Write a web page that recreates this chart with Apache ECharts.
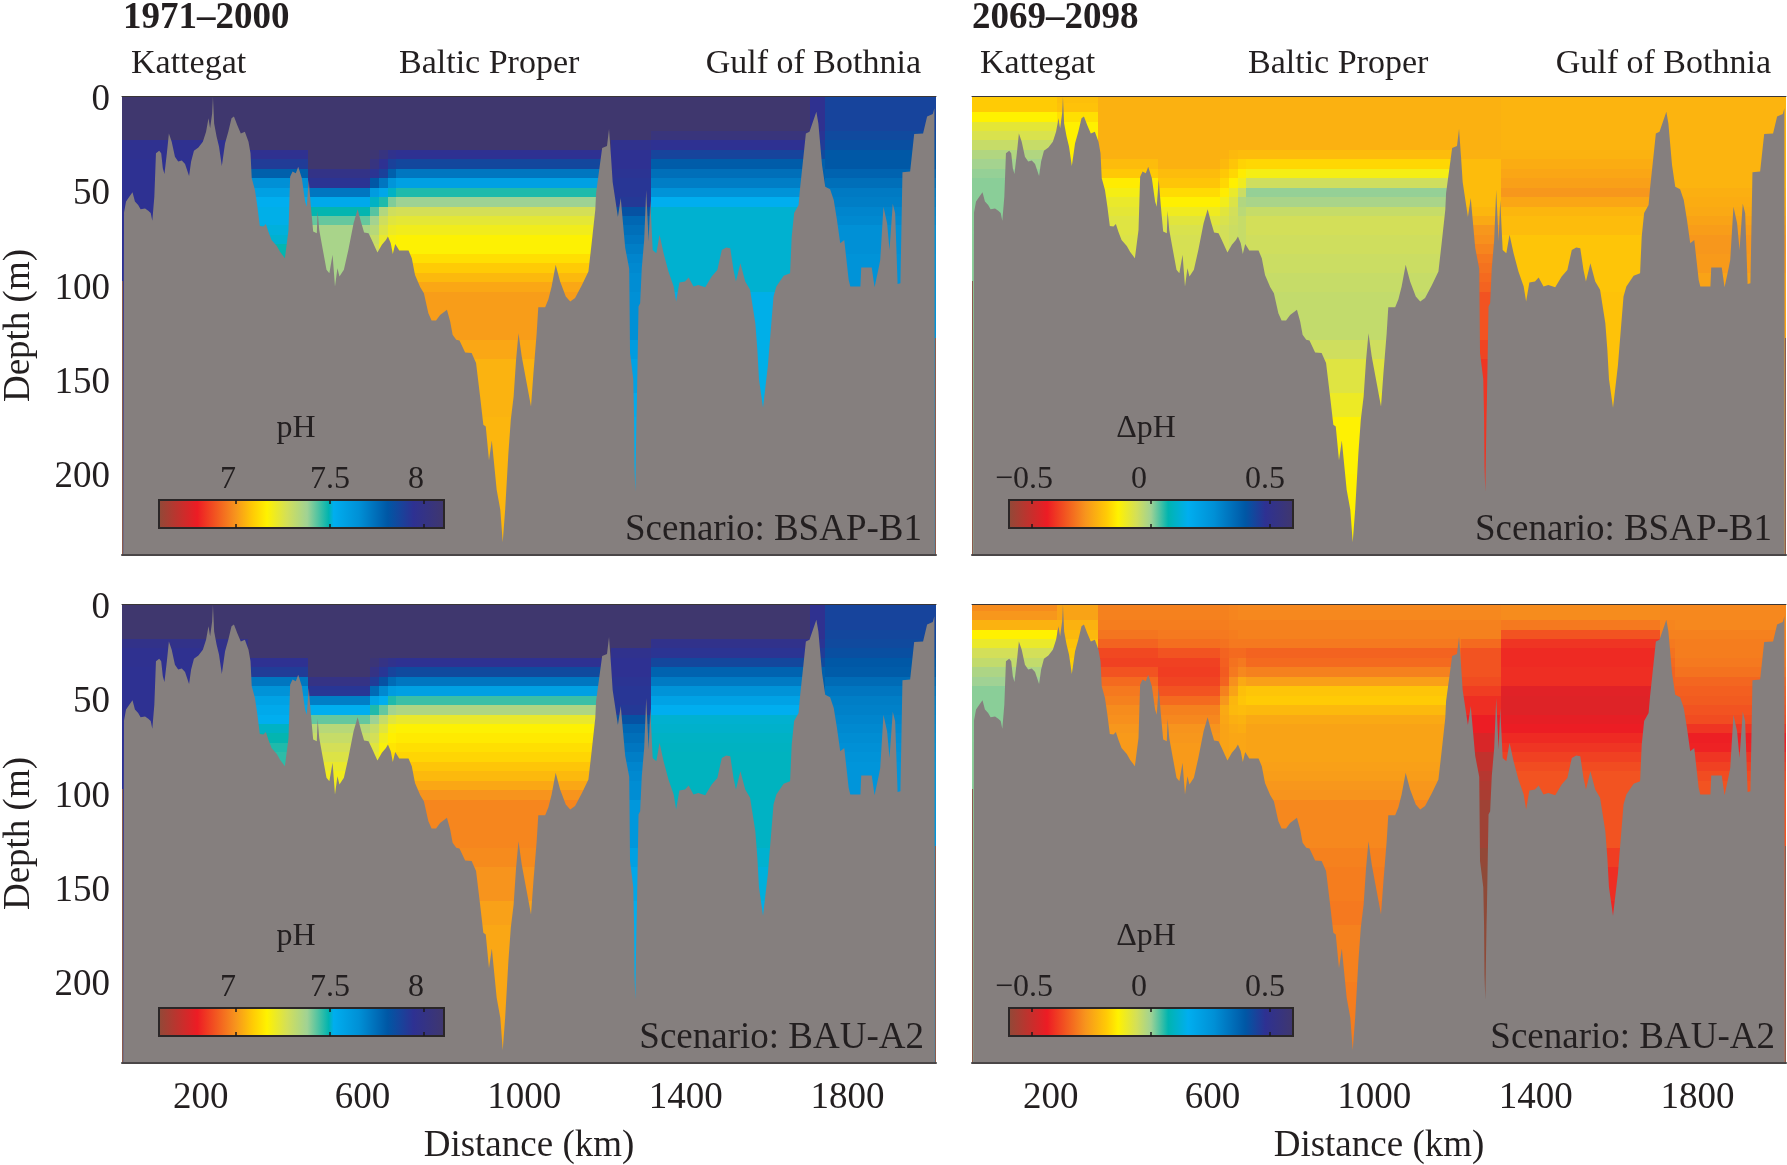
<!DOCTYPE html>
<html><head><meta charset="utf-8">
<style>html,body{margin:0;padding:0;background:#fff}#c{width:1787px;height:1165px}</style>
<script src="https://cdn.jsdelivr.net/npm/echarts@6/dist/echarts.min.js"></script>
</head><body><div id="c"></div>
<script>
// ---------- data ----------
const titles = ['1971–2000', '2069–2098'];
const basins = ['Kattegat', 'Baltic Proper', 'Gulf of Bothnia'];
const scenarios = ['Scenario: BSAP-B1', 'Scenario: BAU-A2'];
const xTicks = [200, 600, 1000, 1400, 1800];
const yTicks = [0, 50, 100, 150, 200];
const phTicks = [7, 7.5, 8];
const dTicks = [-0.5, 0, 0.5];
const phRange = [6.59, 8.106];
const dRange = [-0.597, 0.597];
const xRange = [5, 2019];
const yRange = [0, 243];

// colour ramp of the two colour bars
const rampColors = ['#8f4a38','#ed1c24','#f7941d','#ffcb05','#fff200','#d3df59','#a0d294','#00b4b0','#00aeef','#0090d6','#0057a5','#2e3192','#40376d'];
const rampPosPh  = [0,0.137,0.27,0.33,0.38,0.45,0.52,0.595,0.612,0.70,0.80,0.89,1];
const rampPosD   = [0,0.137,0.27,0.345,0.385,0.45,0.50,0.56,0.63,0.72,0.83,0.90,1];

// model columns along the section (km) and depth bins (m)
const columnEdges = [8,215,316,466,619,640,662,684,1215,1315,1708,1745,2016];
const depthEdges = [0,3.5,8.5,13.5,18.5,23.5,28.5,33.5,38.5,43.5,48.5,53.5,58.5,63.5,68.5,73.5,78.5,83.5,88.5,93.5,98.5,103.5,129,139,157,170,200,243];
const leftStripDepth = 98, rightStripDepth = 128;

// sea-floor section: distance (km), depth (m)
const bedKm = [8,10,15,23,31,37,45,51,62,70,76,80,85,89,97,102,106,110,116,121,128,136,144,153,161,171,176,183,194,205,213,219,223,228,230,233,239,245,252,260,268,276,282,290,299,309,318,323,326,334,340,346,355,361,367,375,388,396,408,412,417,421,427,435,441,450,458,462,467,472,478,487,489,493,502,511,518,526,532,538,543,554,565,578,588,596,604,615,623,637,648,658,663,670,675,681,691,714,722,730,743,752,763,771,782,792,809,817,823,832,840,854,870,881,891,899,905,913,920,932,941,947,953,961,967,974,980,986,994,1007,1017,1023,1031,1035,1052,1060,1068,1078,1089,1103,1114,1126,1143,1159,1167,1176,1178,1193,1205,1210,1215,1219,1232,1239,1250,1260,1262,1270,1272,1273,1275,1276,1278,1279,1283,1287,1291,1297,1302,1308,1312,1318,1327,1335,1345,1357,1370,1376,1384,1398,1407,1419,1431,1448,1464,1478,1489,1500,1510,1518,1524,1535,1547,1559,1572,1577,1581,1591,1603,1617,1624,1642,1658,1662,1668,1679,1683,1691,1697,1706,1723,1728,1737,1745,1757,1766,1774,1782,1792,1803,1807,1832,1834,1860,1867,1877,1881,1889,1898,1904,1912,1918,1924,1931,1936,1955,1965,1987,1997,2011,2015,2016];
const bedDepth = [243,61.7,55.9,53.3,51,55.9,57.7,60,59.6,60.7,62,66,53.3,30.3,29,30.3,38.3,41.3,30.3,19.8,24.2,32.1,34.7,34.2,36,42.3,34.7,29,27.2,24.2,18.9,11.8,17.1,9.2,0.4,14.5,21.5,26.8,37,25,18.9,11.8,10.9,15.3,19.8,18.9,24.2,30.3,43.6,49.7,58.6,68.8,69.1,67.7,71.8,76.2,79.4,82.4,85.9,85,70.9,42.7,40,40.9,37.4,43.6,55.9,58.6,44.4,57.7,71.8,72.7,60.7,70.9,81.5,92,93.8,84.1,100.9,91.2,95.6,92,81.5,67.4,60,66.5,72.3,72.7,76.2,82.9,78.8,76.2,74.4,78,83.6,78.3,81.8,81.8,85.9,94.7,101.2,104.4,115,118.9,118.9,115.9,113.2,119.4,126.4,129.1,129.4,135.8,136.1,141.4,159.1,174.1,175,192.9,182.4,208.5,219,236.3,219,189.1,171.4,159.1,139.7,125.6,137.9,152.9,164.4,146.7,125.6,111.8,111.8,107.6,100.9,89.4,98.2,106.2,108.8,107,100,92.9,77.9,60.3,51.3,27.5,26.5,17.5,32.3,45.5,64,54,80.4,91.5,136,150,170,196,209.4,196,170,161,111.4,109.7,91.2,76.2,49.7,77,55,81.5,83.2,73.5,83.2,92.9,100.9,108.8,98.8,98.2,96.1,100.9,100,101.2,95.6,92.1,81.5,80.2,80.6,92.1,98.2,88.5,98.2,102.6,120.3,134.4,150,165,142.9,106.2,100.9,95.2,93.8,74.4,62,57.7,48,32.1,19.8,18.9,8.3,14.5,36.5,48,49.4,55,65.6,78,76.2,97.4,100.9,100.9,90.8,90.8,101.2,91.2,86.8,58.6,67.4,81.5,57.1,62.1,99.5,99.1,40.4,40,20.1,19.8,10.9,9.5,6.5,243];

// pH, scenario BSAP-B1, 1971-2000: one profile per column, per depth bin
const phB1_K1 = [8.1,8.1,8.1,8.1,8.1,7.95,7.95,7.94,7.94];
const phB1_K2 = [8.1,8.1,8.1,8.1,8.1,7.95,7.95,7.94,7.94];
const phB1_A  = [8.1,8.1,8.1,8.1,8.1,8.1,7.95,7.9,7.78,7.65,7.58,7.52,7.515,7.515,7.51,7.505,7.49,7.49];
const phB1_B  = [8.1,8.1,8.1,8.1,8.1,8.1,8.1,8.1,7.99,7.93,7.72,7.54,7.49,7.42,7.36];
const phB1_T1 = [8.1,8.1,8.1,8.1,8.1,8.1,8.08,8.02,7.93,7.8,7.6,7.5,7.43,7.37,7.33,7.3,7.28,7.26];
const phB1_T2 = [8.1,8.1,8.1,8.1,8.1,8.1,8.02,7.94,7.88,7.72,7.55,7.47,7.34,7.28,7.25,7.22,7.2,7.18];
const phB1_T3 = [8.1,8.1,8.1,8.1,8.1,8.1,7.96,7.88,7.78,7.63,7.5,7.4,7.28,7.24,7.21,7.18,7.17,7.12];
const phB1_C  = [8.1,8.1,8.1,8.1,8.1,8.1,7.94,7.86,7.72,7.58,7.47,7.38,7.27,7.23,7.2,7.17,7.17,7.13,7.09,7.06,7.03,7.015,7.03,7.05,7.05,7.055,7.055];
const phB1_E  = [8.1,8.1,8.1,8.1,8.1,7.96,7.94,7.94,7.93,7.92,7.92,7.91,7.82,7.76,7.74,7.72,7.7,7.68,7.67,7.66,7.66,7.65,7.6,7.57,7.53,7.52,7.52];
const phB1_D  = [8.1,8.1,8.1,8.1,8.04,7.94,7.87,7.79,7.74,7.7,7.64,7.52,7.505,7.505,7.505,7.505,7.505,7.505,7.505,7.505,7.505,7.515,7.515,7.515,7.515,7.515,7.515];
const phB1_G  = [7.95,7.95,7.95,7.95,7.93,7.9,7.85,7.78];
const phB1_H  = [7.87,7.87,7.87,7.87,7.85,7.83,7.8,7.8,7.77,7.74,7.71,7.7,7.68,7.67,7.65,7.65,7.65,7.64,7.64,7.64,7.64];

// pH, scenario BAU-A2, 1971-2000
const phA2_K1 = [8.1,8.1,8.1,8.1,7.98,7.95,7.95,7.94,7.94];
const phA2_K2 = [8.1,8.1,8.1,8.1,7.98,7.95,7.95,7.94,7.94];
const phA2_A  = [8.1,8.1,8.1,8.1,8.1,8.1,7.94,7.9,7.72,7.64,7.57,7.54,7.52,7.5,7.49,7.47,7.46,7.46,7.46];
const phA2_B  = [8.1,8.1,8.1,8.1,8.1,8.1,8.1,8.1,8.0,7.92,7.7,7.52,7.42,7.33,7.3,7.27,7.25,7.22,7.2,7.2];
const phA2_T1 = [8.1,8.1,8.1,8.1,8.1,8.1,8.06,8.0,7.9,7.75,7.56,7.47,7.38,7.3,7.27,7.24,7.22,7.2];
const phA2_T2 = [8.1,8.1,8.1,8.1,8.1,8.1,8.0,7.92,7.82,7.67,7.52,7.42,7.3,7.24,7.2,7.18,7.17,7.15];
const phA2_T3 = [8.1,8.1,8.1,8.1,8.1,8.1,7.96,7.87,7.75,7.6,7.47,7.37,7.24,7.18,7.16,7.14,7.12,7.09];
const phA2_C  = [8.1,8.1,8.1,8.1,8.1,8.1,7.94,7.85,7.72,7.58,7.45,7.35,7.22,7.17,7.15,7.13,7.11,7.08,7.06,7.03,7.0,6.975,6.985,7.0,7.02,7.03,7.03];
const phA2_E  = [8.1,8.1,8.1,8.1,8.1,7.96,7.94,7.94,7.93,7.92,7.92,7.91,7.82,7.76,7.74,7.72,7.7,7.68,7.67,7.66,7.66,7.62,7.58,7.55,7.52,7.52,7.52];
const phA2_D  = [8.1,8.1,8.1,8.1,7.97,7.93,7.86,7.77,7.71,7.64,7.57,7.52,7.505,7.503,7.5,7.499,7.498,7.498,7.498,7.498,7.498,7.5,7.505,7.51,7.515,7.515,7.515];
const phA2_G  = [7.95,7.95,7.95,7.95,7.93,7.9,7.85,7.78];
const phA2_H  = [7.87,7.87,7.87,7.86,7.85,7.83,7.8,7.79,7.75,7.72,7.7,7.69,7.68,7.67,7.66,7.65,7.64,7.63,7.63,7.63,7.63];

// change in pH, scenario BSAP-B1, 2069-2098
const dB1_K1 = [-.185,-.185,-.138,-.09,-.07,-.045,-.02,-.005,.005,.01];
const dB1_K2 = [-.205,-.2,-.16,-.14,-.14,-.14,-.14,-.14];
const dB1_A  = [-.228,-.228,-.228,-.228,-.228,-.228,-.228,-.21,-.19,-.145,-.12,-.1,-.09,-.08,-.08,-.075];
const dB1_B  = [-.228,-.228,-.228,-.228,-.228,-.228,-.228,-.228,-.21,-.195,-.165,-.14,-.11,-.085,-.07,-.065];
const dB1_T1 = [-.228,-.228,-.228,-.228,-.228,-.228,-.225,-.215,-.19,-.17,-.145,-.115,-.085,-.07,-.06];
const dB1_T2 = [-.228,-.228,-.228,-.228,-.228,-.228,-.215,-.195,-.17,-.14,-.1,-.075,-.06,-.055,-.05];
const dB1_T3 = [-.228,-.228,-.228,-.228,-.228,-.228,-.21,-.175,-.145,-.11,-.05,-.02,-.03,-.045];
const dB1_C  = [-.228,-.228,-.228,-.228,-.228,-.228,-.21,-.17,-.12,-.055,.005,-.01,-.045,-.06,-.06,-.055,-.055,-.05,-.05,-.045,-.045,-.04,-.055,-.08,-.105,-.135,-.14];
const dB1_E  = [-.228,-.228,-.228,-.228,-.228,-.228,-.228,-.21,-.21,-.21,-.21,-.21,-.22,-.24,-.27,-.28,-.295,-.31,-.32,-.33,-.34,-.36,-.38,-.4,-.4,-.4,-.4];
const dB1_D  = [-.222,-.222,-.222,-.222,-.222,-.222,-.225,-.235,-.245,-.255,-.27,-.245,-.22,-.21,-.21,-.195,-.195,-.195,-.195,-.195,-.195,-.2];
const dB1_G  = [-.222,-.222,-.222,-.222,-.222,-.222,-.222,-.222];
const dB1_H  = [-.222,-.222,-.222,-.222,-.222,-.222,-.222,-.222,-.222,-.222,-.23,-.235,-.24,-.25,-.26,-.27,-.27,-.265,-.265,-.25,-.25];

// change in pH, scenario BAU-A2, 2069-2098
const dA2_K1 = [-.285,-.27,-.225,-.138,-.1,-.06,-.04,-.015,0,.01];
const dA2_K2 = [-.25,-.25,-.225,-.215,-.2,-.19,-.18,-.17];
const dA2_A  = [-.3,-.3,-.305,-.315,-.34,-.375,-.385,-.36,-.33,-.31,-.3,-.285,-.28,-.27,-.265];
const dA2_B  = [-.3,-.3,-.305,-.31,-.325,-.36,-.385,-.39,-.38,-.36,-.33,-.3,-.29,-.275,-.27,-.265];
const dA2_T1 = [-.3,-.3,-.305,-.31,-.32,-.34,-.345,-.35,-.34,-.3,-.27,-.24,-.245,-.25];
const dA2_T2 = [-.295,-.295,-.3,-.305,-.31,-.33,-.32,-.31,-.28,-.25,-.22,-.215,-.23,-.24,-.245];
const dA2_T3 = [-.29,-.29,-.3,-.3,-.31,-.33,-.31,-.29,-.24,-.205,-.195,-.21,-.225,-.235,-.245];
const dA2_C  = [-.29,-.29,-.3,-.3,-.31,-.34,-.33,-.3,-.255,-.195,-.185,-.215,-.24,-.25,-.25,-.25,-.25,-.255,-.26,-.27,-.275,-.29,-.3,-.305,-.31,-.3,-.305];
const dA2_E  = [-.29,-.29,-.3,-.3,-.33,-.36,-.36,-.36,-.37,-.39,-.41,-.41,-.436,-.436,-.47,-.47,-.51,-.51,-.53,-.54,-.55,-.57,-.59,-.6,-.6,-.6,-.6];
const dA2_D  = [-.285,-.285,-.31,-.36,-.4,-.415,-.415,-.41,-.41,-.455,-.46,-.46,-.445,-.436,-.415,-.4,-.385,-.37,-.36,-.36,-.36,-.36,-.39,-.41,-.42,-.42,-.42];
const dA2_G  = [-.29,-.29,-.295,-.3,-.31,-.32,-.33,-.34];
const dA2_H  = [-.29,-.29,-.29,-.3,-.305,-.305,-.31,-.32,-.335,-.345,-.35,-.36,-.37,-.4,-.43,-.425,-.4,-.385,-.37,-.36,-.36];

const fieldPhB1 = [phB1_K1,phB1_K2,phB1_A,phB1_B,phB1_T1,phB1_T2,phB1_T3,phB1_C,phB1_E,phB1_D,phB1_G,phB1_H];
const fieldPhA2 = [phA2_K1,phA2_K2,phA2_A,phA2_B,phA2_T1,phA2_T2,phA2_T3,phA2_C,phA2_E,phA2_D,phA2_G,phA2_H];
const fieldDB1  = [dB1_K1,dB1_K2,dB1_A,dB1_B,dB1_T1,dB1_T2,dB1_T3,dB1_C,dB1_E,dB1_D,dB1_G,dB1_H];
const fieldDA2  = [dA2_K1,dA2_K2,dA2_A,dA2_B,dA2_T1,dA2_T2,dA2_T3,dA2_C,dA2_E,dA2_D,dA2_G,dA2_H];

// ---------- drawing ----------
const FONT = '"Liberation Serif","Times New Roman",serif';
const INK = '#231f20', GRAY = '#857f7e', BROWN = '#8c5a4a';
const PW = 814, PH = 459;
const panels = [
  {left:122, top:96,  field:fieldPhB1, range:phRange, pos:rampPosPh, ticks:phTicks, yAxis:true,  xAxis:false},
  {left:972, top:96,  field:fieldDB1,  range:dRange,  pos:rampPosD,  ticks:dTicks,  yAxis:false, xAxis:false},
  {left:122, top:604, field:fieldPhA2, range:phRange, pos:rampPosPh, ticks:phTicks, yAxis:true,  xAxis:true},
  {left:972, top:604, field:fieldDA2,  range:dRange,  pos:rampPosD,  ticks:dTicks,  yAxis:false, xAxis:true}
];
function hex(c){return [1,3,5].map(i=>parseInt(c.substr(i,2),16));}
function colorOf(v, range, pos){
  const t = Math.max(0, Math.min(1, (v-range[0])/(range[1]-range[0])));
  for (let i=1;i<pos.length;i++){
    if (t<=pos[i]){
      const f=(t-pos[i-1])/(pos[i]-pos[i-1]), a=hex(rampColors[i-1]), b=hex(rampColors[i]);
      return 'rgb('+a.map((x,k)=>Math.round(x+(b[k]-x)*f)).join(',')+')';
    }
  }
  return rampColors[rampColors.length-1];
}
function profileAt(p,i){return i<p.length?p[i]:p[p.length-1];}
function cellsOf(field){
  const out=[];
  field.forEach((p,c)=>{
    for(let i=0;i<depthEdges.length-1;i++)
      out.push([columnEdges[c],columnEdges[c+1],depthEdges[i],depthEdges[i+1],profileAt(p,i)]);
  });
  for(let i=0;i<depthEdges.length-1 && depthEdges[i]<leftStripDepth;i++)
    out.push([xRange[0],columnEdges[0],depthEdges[i],Math.min(depthEdges[i+1],leftStripDepth),profileAt(field[0],i)]);
  const last=columnEdges[columnEdges.length-1];
  for(let i=0;i<depthEdges.length-1 && depthEdges[i]<rightStripDepth;i++)
    out.push([last,xRange[1],depthEdges[i],Math.min(depthEdges[i+1],rightStripDepth),profileAt(field[field.length-1],i)]);
  return out;
}
const grids=[],xAxes=[],yAxes=[],series=[],texts=[];
function txt(t,x,y,size,extra){texts.push({type:'text',z:100,x,y,style:Object.assign({text:t,font:size+'px '+FONT,fill:INK,textAlign:'left',textVerticalAlign:'middle'},extra||{})});}

panels.forEach((p,n)=>{
  const g=grids.length;
  grids.push({left:p.left,top:p.top,width:PW,height:PH,show:true,backgroundColor:BROWN,borderWidth:0,outerBoundsMode:'none',containLabel:false});
  xAxes.push({gridIndex:g,type:'value',min:xRange[0],max:xRange[1],position:'bottom',z:10,
    name:p.xAxis?'Distance (km)':'',nameLocation:'middle',nameGap:65,
    nameTextStyle:{fontFamily:FONT,fontSize:37,color:INK},
    axisLine:{show:true,onZero:false,lineStyle:{color:'#4a4647',width:2}},axisTick:{show:false},splitLine:{show:false},
    axisLabel:{show:p.xAxis,customValues:xTicks,formatter:v=>String(v),fontFamily:FONT,fontSize:37,color:INK,margin:17}});
  const xi2=xAxes.length;
  xAxes.push({gridIndex:g,type:'value',min:xRange[0],max:xRange[1],position:'top',z:10,
    axisLine:{show:true,onZero:false,lineStyle:{color:'#3a3637',width:1}},axisTick:{show:false},axisLabel:{show:false},splitLine:{show:false}});
  yAxes.push({gridIndex:g,type:'value',inverse:true,min:yRange[0],max:yRange[1],
    name:p.yAxis?'Depth (m)':'',nameLocation:'middle',nameGap:84,nameRotate:90,
    nameTextStyle:{fontFamily:FONT,fontSize:37,color:INK},
    axisLine:{show:false},axisTick:{show:false},splitLine:{show:false},
    axisLabel:{show:p.yAxis,customValues:yTicks,fontFamily:FONT,fontSize:37,color:INK,margin:12,verticalAlign:'top',lineHeight:8}});
  const range=p.range,pos=p.pos;
  series.push({type:'custom',xAxisIndex:xi2-1,yAxisIndex:yAxes.length-1,z:2,silent:true,animation:false,progressive:0,
    encode:{x:[0,1],y:[2,3]},data:cellsOf(p.field),
    renderItem:(params,api)=>{
      const a=api.coord([api.value(0),api.value(2)]),b=api.coord([api.value(1),api.value(3)]);
      const x0=Math.round(a[0]),x1=Math.round(b[0]),y0=Math.round(a[1]),y1=Math.round(b[1]);
      return {type:'rect',shape:{x:x0,y:y0,width:x1-x0,height:y1-y0},style:{fill:colorOf(api.value(4),range,pos)}};
    }});
  series.push({type:'line',xAxisIndex:xi2-1,yAxisIndex:yAxes.length-1,z:3,silent:true,animation:false,symbol:'none',
    lineStyle:{width:0},areaStyle:{color:GRAY,opacity:1,origin:'end'},
    data:bedKm.map((k,i)=>[k,bedDepth[i]])});
});
// colour bars, each with its own scale
panels.forEach((p,n)=>{
  const barW=p.left===972?284:285, barTop=p.top+404;
  const g=grids.length;
  grids.push({left:p.left===972?1009:159,top:barTop,width:barW,height:28,z:20,show:false,outerBoundsMode:'none',containLabel:false});
  const xi=xAxes.length;
  const mk=(position)=>({gridIndex:g,type:'value',min:p.range[0],max:p.range[1],position,z:30,
    axisLine:{show:false,onZero:false},axisLabel:{show:false},splitLine:{show:false},
    axisTick:{show:true,inside:true,length:4,customValues:p.ticks,lineStyle:{color:'#1c1a1b',width:1.5}}});
  xAxes.push(mk('top')); xAxes.push(mk('bottom'));
  yAxes.push({gridIndex:g,type:'value',min:0,max:1,show:false});
  const yi=yAxes.length-1;
  const stops=p.pos.map((o,i)=>({offset:o,color:rampColors[i]}));
  series.push({type:'custom',xAxisIndex:xi,yAxisIndex:yi,z:20,silent:true,animation:false,
    data:[[p.range[0],p.range[1]]],encode:{x:[0,1]},
    renderItem:(params,api)=>{
      const a=api.coord([api.value(0),1]),b=api.coord([api.value(1),0]);
      return {type:'rect',shape:{x:a[0],y:a[1],width:b[0]-a[0],height:b[1]-a[1]},
        style:{fill:new echarts.graphic.LinearGradient(0,0,1,0,stops),stroke:'#2a2627',lineWidth:2}};
    }});
});
// header and annotation text
[[0,123,131,399,705,921],[1,972,980,1248,1556,1771]].forEach(h=>{
  txt(titles[h[0]],h[1],18,37,{font:'bold 37px '+FONT});
  txt(basins[0],h[2],64,34);
  txt(basins[1],h[3],64,34);
  txt(basins[2],h[5],64,34,{textAlign:'right'});
});
[0,508].forEach((dy,r)=>{
  txt(scenarios[r],922+(r?2:0),530+dy,37,{textAlign:'right'});
  txt(scenarios[r],1772+(r?3:0),530+dy,37,{textAlign:'right'});
  txt('pH',296,429+dy,32,{textAlign:'center'});
  txt('ΔpH',1146,429+dy,32,{textAlign:'center'});
  [['7',228],['7.5',330],['8',416]].forEach(t=>txt(t[0],t[1],480+dy,32,{textAlign:'center'}));
  [['−0.5',1024],['0',1139],['0.5',1265]].forEach(t=>txt(t[0],t[1],480+dy,32,{textAlign:'center'}));
});

const chart=echarts.init(document.getElementById('c'),null,{renderer:'canvas',width:1787,height:1165});
chart.setOption({animation:false,backgroundColor:'#ffffff',grid:grids,xAxis:xAxes,yAxis:yAxes,series:series,graphic:{elements:texts}});
</script></body></html>
